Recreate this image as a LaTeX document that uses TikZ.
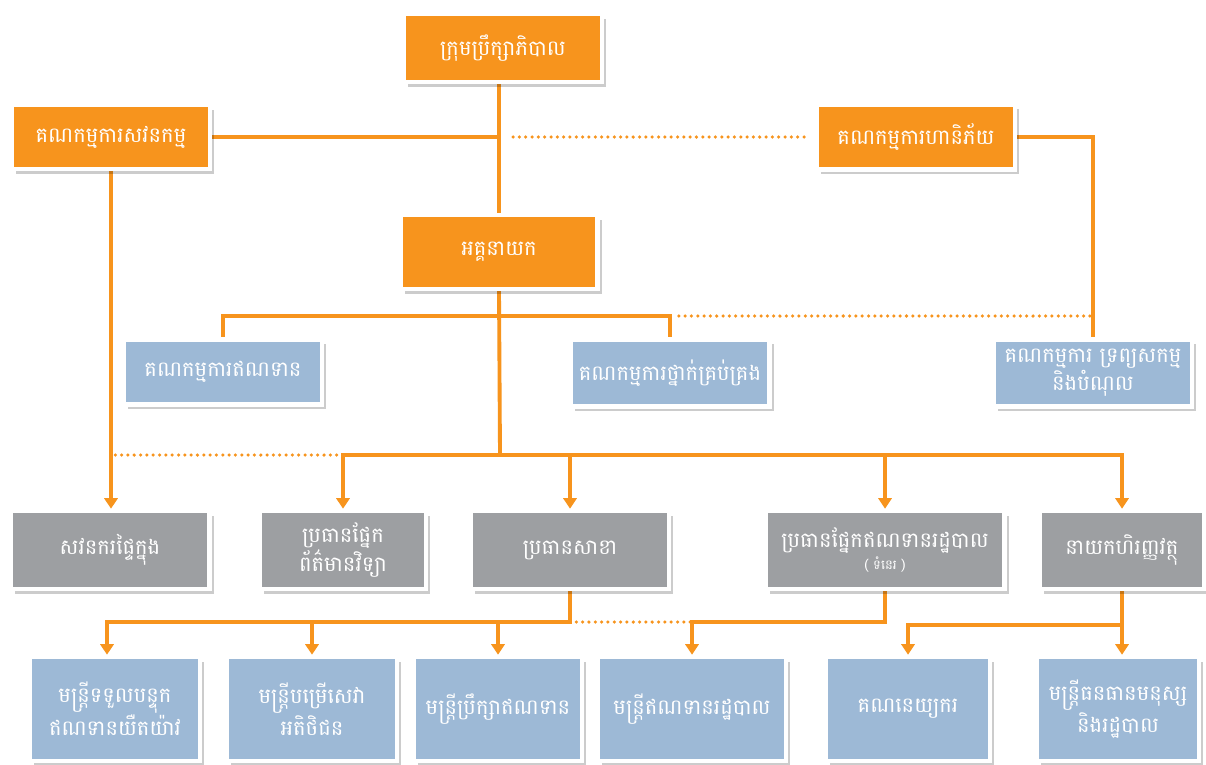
\documentclass[tikz,border=0pt]{standalone}
\usepackage{fontspec}
\newfontfamily\khmerfont[Script=Khmer]{Battambang}
\usetikzlibrary{positioning, arrows.meta, shadows, backgrounds}
\definecolor{boxorange}{HTML}{F7941D}
\definecolor{boxblue}{HTML}{9DB9D6}
\definecolor{boxgray}{HTML}{9D9FA2}
\definecolor{lineorange}{HTML}{F7941D}

\tikzset{
  box/.style={draw=white, line width=2.6pt, text=white, align=center, inner sep=2pt,
    font=\khmerfont\fontsize{12}{12.5}\selectfont,
    drop shadow={shadow xshift=2.4pt, shadow yshift=-2.8pt, opacity=0.2, fill=black}},
  orangebox/.style={box, fill=boxorange},
  bluebox/.style={box, fill=boxblue},
  graybox/.style={box, fill=boxgray},
  wh/.style 2 args={minimum width=#1*0.02cm, minimum height=#2*0.02cm},
  link/.style={draw=lineorange, line width=2.2pt, line cap=rect},
  arr/.style={link, -{Triangle[length=6pt, width=7.5pt]}},
  dots/.style={draw=lineorange, line width=2pt, line cap=round, dash pattern=on 0pt off 3.6pt}
}

\begin{document}
\begin{tikzpicture}[x=0.02cm, y=-0.02cm]
\useasboundingbox (0,0) rectangle (1206,764);

% Board, committees and CEO
\node[orangebox, wh={198}{68}] (board) at (503,48) {ក្រុមប្រឹក្សាភិបាល};
\node[orangebox, wh={198}{64}] (audit) at (111,137) {គណកម្មការសវនកម្ម};
\node[orangebox, wh={198}{65}] (risk) at (916,137) {គណកម្មការហានិភ័យ};
\node[orangebox, wh={197}{74}] (ceo) at (499,252) {អគ្គនាយក};
\node[bluebox, wh={198}{65}] (creditcom) at (223,372) {គណកម្មការឥណទាន};
\node[bluebox, wh={199}{67}] (mgmtcom) at (670,373) {គណកម្មការថ្នាក់គ្រប់គ្រង};
\node[bluebox, wh={198}{67}] (alco) at (1093,373) {គណកម្មការ ទ្រព្យសកម្ម\\និងបំណុល};

% Heads of units
\node[graybox, wh={199}{78}] (internal) at (110,550) {សវនករផ្ទៃក្នុង};
\node[graybox, wh={166}{78}] (ithead) at (343,550) {ប្រធានផ្នែក\\ព័ត៌មានវិទ្យា};
\node[graybox, wh={198}{78}] (branch) at (570,550) {ប្រធានសាខា};
\node[graybox, wh={239}{78}] (creditadmin) at (885,550) {ប្រធានផ្នែកឥណទានរដ្ឋបាល\\{\fontsize{7.5}{8}\selectfont ( ទំនេរ )}};
\node[graybox, wh={165}{78}] (cfo) at (1122,550) {នាយកហិរញ្ញវត្ថុ};

% Staff
\node[bluebox, wh={170}{104}] (lateloan) at (115,709) {មន្ត្រីទទួលបន្ទុក\\ឥណទានយឺតយ៉ាវ};
\node[bluebox, wh={170}{104}] (custservice) at (312,709) {មន្ត្រីបម្រើសេវា\\អតិថិជន};
\node[bluebox, wh={168}{104}] (creditofficer) at (498,709) {មន្ត្រីប្រឹក្សាឥណទាន};
\node[bluebox, wh={188}{104}] (adminofficer) at (692,709) {មន្ត្រីឥណទានរដ្ឋបាល};
\node[bluebox, wh={164}{104}] (accountant) at (908,709) {គណនេយ្យករ};
\node[bluebox, wh={162}{104}] (hrofficer) at (1118,709) {មន្ត្រីធនធានមនុស្ស\\និងរដ្ឋបាល};

\coordinate (cmtbar) at (500,316);
\coordinate (unitbar) at (500,455);
\coordinate (staffbar) at (570,622);
\coordinate (lateloanin) at (107,622);
\coordinate (finbar) at (1120,625);

\begin{scope}[on background layer]
\fill[white] (0,0) rectangle (1206,764);

% Connections
\draw[link] (board.south -| ceo.north) -- (ceo.north);
\draw[link] (audit.east) -- (audit.east -| ceo.north);
\draw[dots] ([xshift=8pt]audit.east -| ceo.north) -- ([xshift=-3pt]risk.west);
\draw[link] (risk.east) -| (alco.north);
\draw[arr] (audit.south) -- (audit.south |- internal.north);

\draw[link] (ceo.south) -- (unitbar);
\draw[link] (creditcom.north) |- (cmtbar) -| (mgmtcom.north);
\draw[dots] ([xshift=5pt]mgmtcom.north |- cmtbar) -- (alco.north |- cmtbar);

\draw[dots] ([xshift=3pt]internal.north |- unitbar) -- (ithead.north |- unitbar);
\draw[link] (ithead.north |- unitbar) -- (cfo.north |- unitbar);
\foreach \n in {ithead, branch, creditadmin, cfo}
  \draw[arr] (\n.north |- unitbar) -- (\n.north);

\draw[link] (branch.south) -- (staffbar) -- (lateloanin);
\draw[arr] (lateloanin) -- (lateloanin |- lateloan.north);
\draw[arr] (staffbar -| custservice.north) -- (custservice.north);
\draw[arr] (staffbar -| creditofficer.north) -- (creditofficer.north);
\draw[dots] (staffbar) -- (staffbar -| adminofficer.north);
\draw[arr] (creditadmin.south) |- (staffbar -| adminofficer.north) -- (adminofficer.north);

\draw[arr] (cfo.south) -- (cfo.south |- hrofficer.north);
\draw[arr] (cfo.south |- finbar) -| (accountant.north);
\end{scope}

\end{tikzpicture}
\end{document}
